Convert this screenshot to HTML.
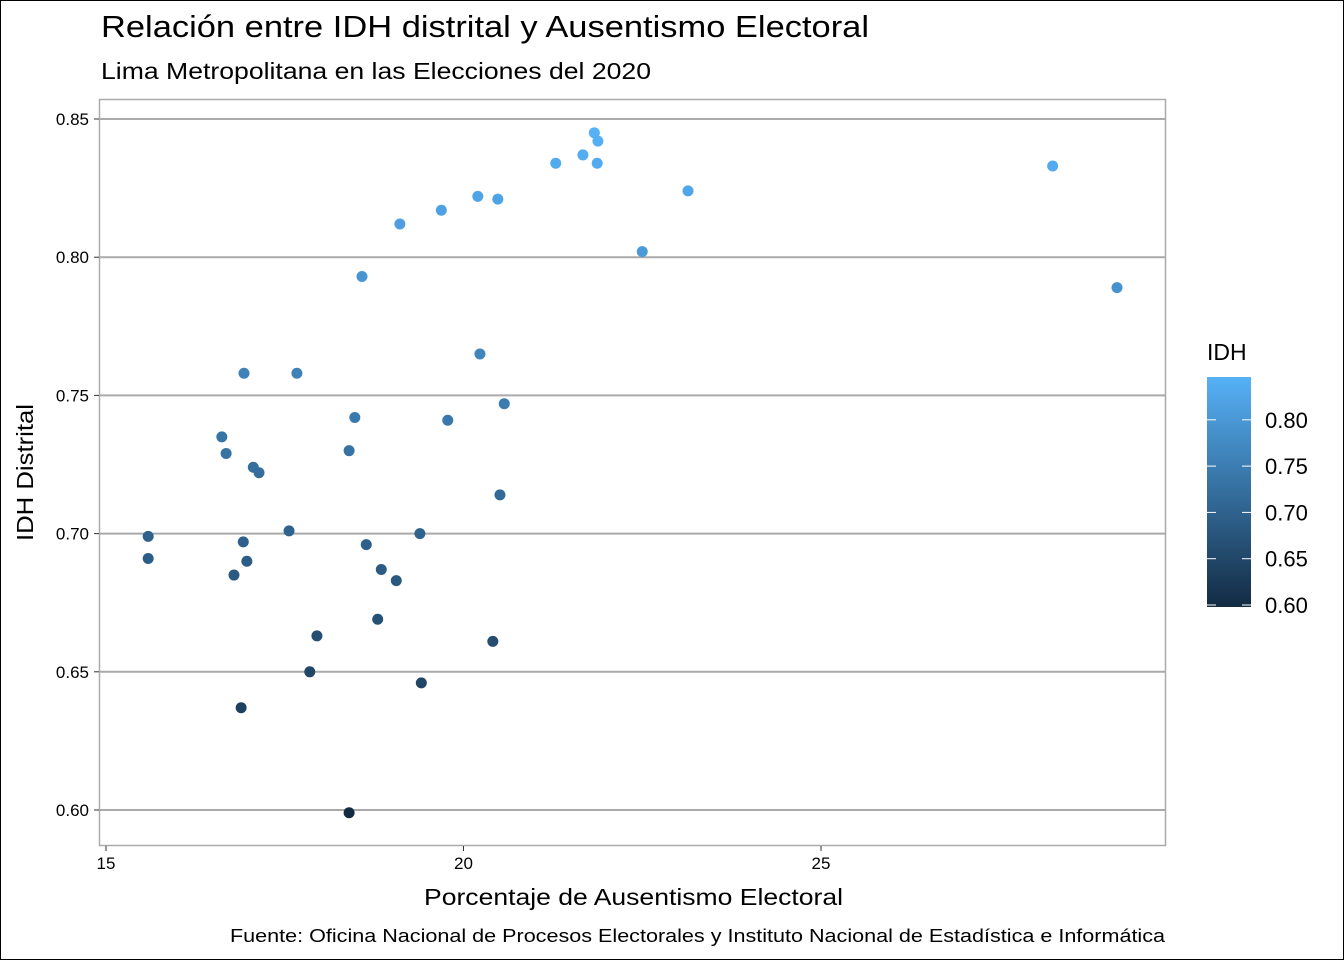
<!DOCTYPE html>
<html><head><meta charset="utf-8"><style>
body{margin:0;background:#fff;}
svg{display:block;font-family:"Liberation Sans",sans-serif;}
</style></head><body>
<svg id="chart" width="1344" height="960">
<defs><linearGradient id="lg" x1="0" y1="1" x2="0" y2="0">
<stop offset="0" stop-color="#132B43"/><stop offset="1" stop-color="#56B1F7"/></linearGradient></defs>
<rect x="0.5" y="0.5" width="1343" height="959" fill="#fff" stroke="#000"/>
<text x="101" y="37" font-size="31" fill="#000" textLength="768" lengthAdjust="spacingAndGlyphs">Relación entre IDH distrital y Ausentismo Electoral</text>
<text x="101" y="79" font-size="23" fill="#000" textLength="550" lengthAdjust="spacingAndGlyphs">Lima Metropolitana en las Elecciones del 2020</text>
<g id="grid"></g>
<rect x="99.5" y="99.5" width="1066" height="746" fill="none" stroke="#aaa" stroke-width="1.5"/>
<g id="ticks"></g>
<g id="points"></g>
<text x="424" y="905" font-size="23" textLength="419" lengthAdjust="spacingAndGlyphs">Porcentaje de Ausentismo Electoral</text>
<text transform="translate(33,541) rotate(-90)" font-size="23" textLength="137" lengthAdjust="spacingAndGlyphs">IDH Distrital</text>
<text x="230" y="942" font-size="18" textLength="935" lengthAdjust="spacingAndGlyphs">Fuente: Oficina Nacional de Procesos Electorales y Instituto Nacional de Estadística e Informática</text>
<text x="1207" y="360" font-size="23">IDH</text>
<rect x="1207" y="377" width="44" height="230" fill="url(#lg)"/>
<g id="legend"></g>
</svg>
<script>
const xVals=[21.83,21.88,21.67,21.29,21.87,28.24,23.14,20.20,20.48,19.69,19.11,22.50,18.58,29.14,20.23,16.93,17.67,18.48,20.57,19.78,16.62,18.40,16.68,17.06,17.14,20.51,15.59,17.56,19.39,16.92,18.64,15.59,16.97,18.85,16.79,19.06,18.80,17.95,20.41,17.85,19.41,16.89,18.40];
const yVals=[0.845,0.842,0.837,0.834,0.834,0.833,0.824,0.822,0.821,0.817,0.812,0.802,0.793,0.789,0.765,0.758,0.758,0.742,0.747,0.741,0.735,0.730,0.729,0.724,0.722,0.714,0.699,0.701,0.700,0.697,0.696,0.691,0.690,0.687,0.685,0.683,0.669,0.663,0.661,0.650,0.646,0.637,0.599];
const xTicks=[15,20,25];
const yTicks=[0.60,0.65,0.70,0.75,0.80,0.85];
const legendTicks=[0.60,0.65,0.70,0.75,0.80];
const NS="http://www.w3.org/2000/svg";
const sx=v=>106+(v-15)*71.5;
const sy=v=>810-(v-0.6)*2764;
const cMin=Math.min(...yVals),cMax=Math.max(...yVals);
const ly=v=>605-(v-0.6)*926;
function col(v){const t=(v-cMin)/(cMax-cMin);const a=[0x13,0x2B,0x43],b=[0x56,0xB1,0xF7];return`rgb(${a.map((c,i)=>Math.round(c+(b[i]-c)*t)).join(',')})`;}
function mk(tag,at,parent){const e=document.createElementNS(NS,tag);for(const k in at)e.setAttribute(k,at[k]);document.getElementById(parent).appendChild(e);return e;}
yTicks.forEach(v=>{
 const l=mk('line',{x1:100,x2:1165,y1:sy(v),y2:sy(v),stroke:'#aaa','stroke-width':2},'grid');
 
 
 const t=mk('line',{x1:94,x2:99,y1:sy(v),y2:sy(v),stroke:'#333'},'ticks');
 
 
 const tx=mk('text',{x:89,y:sy(v)+6,'font-size':17,'text-anchor':'end'},'ticks');tx.textContent=v.toFixed(2);
 
 
});
xTicks.forEach(v=>{
 const t=mk('line',{x1:sx(v),x2:sx(v),y1:846,y2:851,stroke:'#333'},'ticks');
 
 
 const tx=mk('text',{x:sx(v),y:869,'font-size':17,'text-anchor':'middle'},'ticks');tx.textContent=v;
 
 
});
xVals.forEach((x,i)=>{
 const c=mk('circle',{cx:sx(x),cy:sy(yVals[i]),r:5.5,fill:col(yVals[i])},'points');
 
 
});
legendTicks.forEach(v=>{
 const a=mk('line',{x1:1207,x2:1216,y1:ly(v),y2:ly(v),stroke:'#fff','stroke-width':1},'legend');
 
 
 const b=mk('line',{x1:1242,x2:1251,y1:ly(v),y2:ly(v),stroke:'#fff','stroke-width':1},'legend');
 
 
 const tx=mk('text',{x:1265,y:ly(v)+8,'font-size':22},'legend');tx.textContent=v.toFixed(2);
 
 
});
</script>
</body></html>
